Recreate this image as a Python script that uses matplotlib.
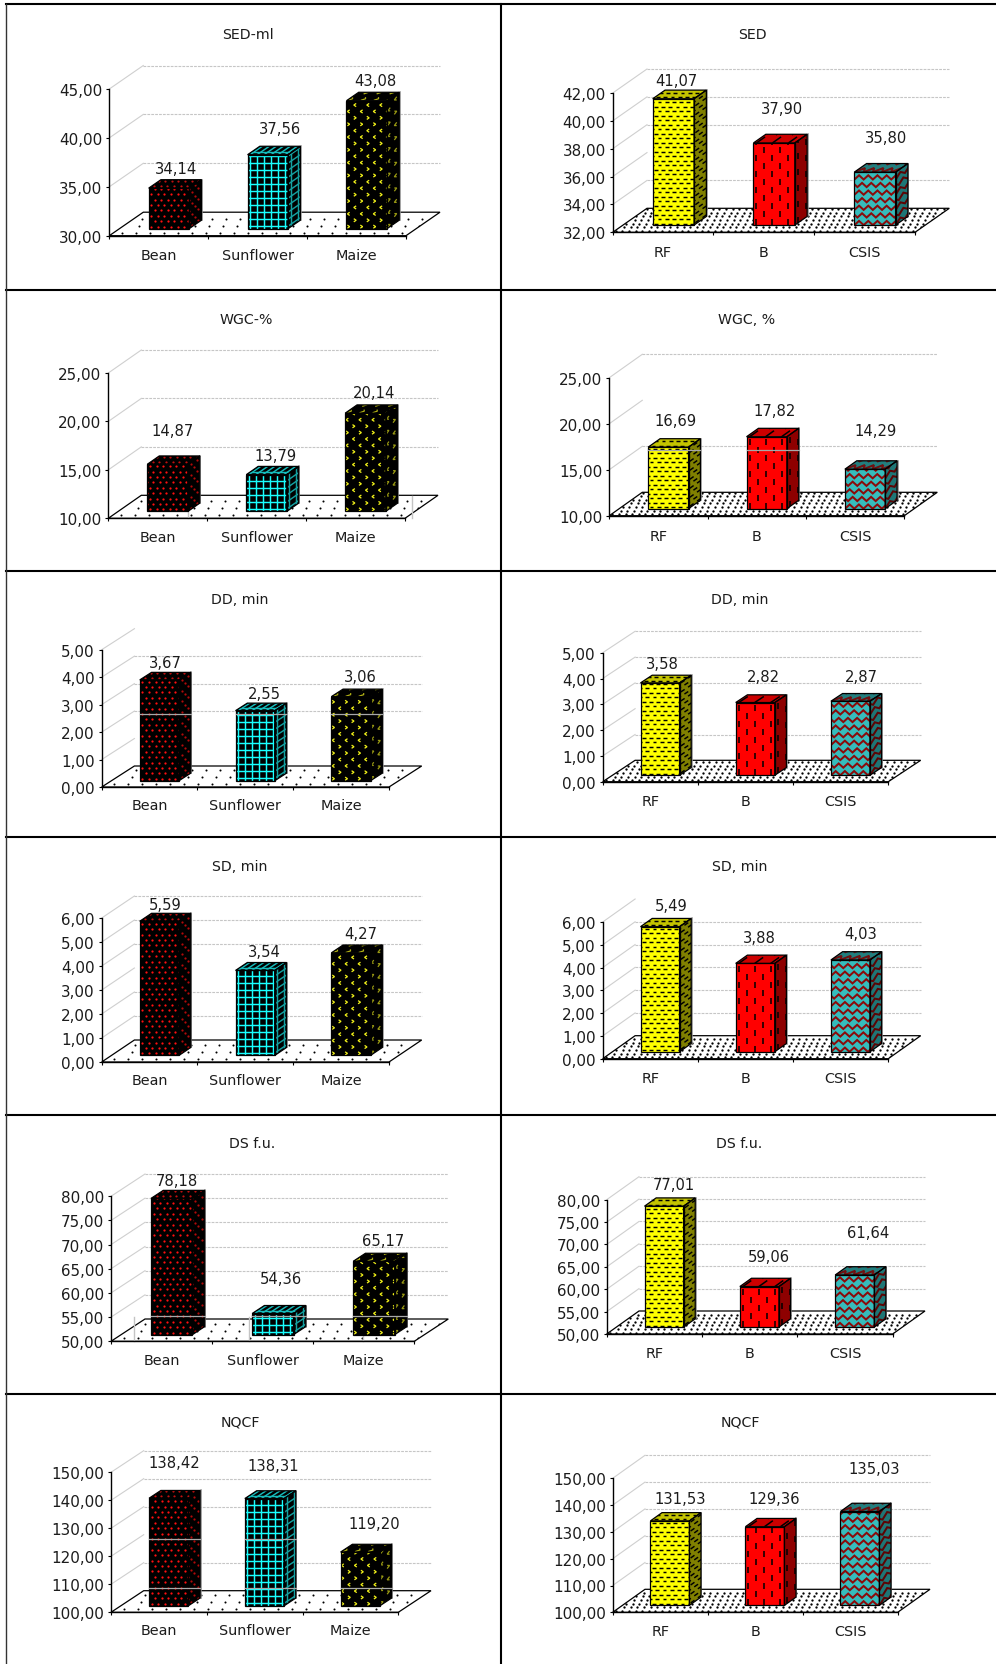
import numpy as np
import matplotlib
matplotlib.use('Agg')
import matplotlib.pyplot as plt
from matplotlib.collections import LineCollection
from matplotlib.lines import Line2D
from matplotlib.patches import Polygon

# ---------- data ----------
CROPS = ['Bean', 'Sunflower', 'Maize']
GROUPS = ['RF', 'B', 'CSIS']

SED_ML = [34.14, 37.56, 43.08]
SED = [41.07, 37.90, 35.80]
WGC_PCT = [14.87, 13.79, 20.14]
WGC = [16.69, 17.82, 14.29]
DD_CROP = [3.67, 2.55, 3.06]
DD_GROUP = [3.58, 2.82, 2.87]
SD_CROP = [5.59, 3.54, 4.27]
SD_GROUP = [5.49, 3.88, 4.03]
DS_CROP = [78.18, 54.36, 65.17]
DS_GROUP = [77.01, 59.06, 61.64]
NQCF_CROP = [138.42, 138.31, 119.20]
NQCF_GROUP = [131.53, 129.36, 135.03]

TITLES = ['SED-ml', 'SED', 'WGC-%', 'WGC, %', 'DD, min', 'DD, min',
          'SD, min', 'SD, min', 'DS f.u.', 'DS f.u.', 'NQCF', 'NQCF']
SERIES = [SED_ML, SED, WGC_PCT, WGC, DD_CROP, DD_GROUP,
          SD_CROP, SD_GROUP, DS_CROP, DS_GROUP, NQCF_CROP, NQCF_GROUP]
# value axes: min, max, step
AXES_RANGE = [(30, 45, 5), (32, 42, 2), (10, 25, 5), (10, 25, 5), (0, 5, 1), (0, 5, 1),
              (0, 6, 1), (0, 6, 1), (50, 80, 5), (50, 80, 5), (100, 150, 10), (100, 150, 10)]
HIDDEN_GRID = [[], [36], [], [20], [1, 5], [2], [3], [6], [], [], [120], []]

# ---------- layout (pixels in the 996x1665 picture) ----------
PW, PH = 996, 1665
# x0, x1, y of min, y of max, depth dx, depth dy, title x, title y, category label y
GEOM = [
    (109.3, 406.0, 236.7, 90.0, 34.0, 23.5, 247.7, 35.0, 255.7),
    (612.7, 915.0, 233.3, 94.0, 34.3, 24.0, 752.0, 35.0, 253.0),
    (108.3, 405.0, 519.3, 374.0, 33.0, 23.0, 246.7, 320.0, 537.7),
    (609.3, 904.3, 516.7, 378.7, 33.0, 23.4, 747.0, 320.3, 536.7),
    (101.7, 389.0, 788.0, 650.7, 32.7, 21.0, 240.0, 600.0, 806.0),
    (602.7, 888.3, 782.7, 653.7, 32.4, 21.4, 740.0, 600.0, 802.0),
    (101.7, 389.0, 1063.0, 919.0, 32.7, 22.0, 240.0, 867.0, 1081.3),
    (602.7, 888.3, 1059.7, 923.0, 32.4, 23.0, 739.3, 867.0, 1078.7),
    (111.0, 414.3, 1342.3, 1197.3, 34.0, 22.3, 252.3, 1144.3, 1360.7),
    (606.7, 892.7, 1335.0, 1200.7, 32.3, 23.0, 739.3, 1144.3, 1354.3),
    (111.0, 398.3, 1613.3, 1473.3, 32.7, 21.6, 240.0, 1422.3, 1631.3),
    (612.7, 897.7, 1613.3, 1479.3, 32.3, 23.0, 740.0, 1422.7, 1632.0),
]
VALUE_LABEL_XY = [
    [(175.7, 169.3), (280.0, 129.3), (375.7, 81.0)],
    [(676.0, 81.7), (782.0, 110.0), (885.7, 139.0)],
    [(172.7, 431.3), (275.7, 456.7), (374.3, 393.3)],
    [(675.0, 421.7), (775.0, 411.7), (875.7, 431.7)],
    [(165.0, 663.7), (264.3, 694.3), (360.3, 678.0)],
    [(662.7, 664.7), (763.3, 677.0), (861.3, 677.0)],
    [(165.0, 905.3), (264.3, 953.0), (360.3, 934.7)],
    [(670.7, 907.0), (759.3, 938.7), (861.0, 934.7)],
    [(177.3, 1181.0), (281.0, 1279.3), (383.3, 1241.7)],
    [(674.0, 1185.7), (769.0, 1257.7), (868.0, 1233.0)],
    [(174.0, 1463.3), (273.3, 1466.7), (374.0, 1524.3)],
    [(680.0, 1500.0), (774.0, 1499.3), (874.0, 1469.3)],
]
# stray light lines of the scanned picture
BAR_STREAK_Y = [[], [], [], [451], [715], [], [], [], [1317], [], [1540, 1589], []]
V_STREAKS = [(187.7, 457, 519), (411.6, 497, 519), (134, 1318, 1342), (249, 1318, 1342), (363, 1318, 1342)]

BAR_WIDTH = 0.41
BAR_FRONT = 0.30
BAR_DEPTH = 0.36

# colours: (background, pattern) for the front, side and top faces
STYLE = {
    'Bean':      [('#000000', '#ff1010'), ('#000000', '#b00a0a'), ('#000000', '#c01010')],
    'Sunflower': [('#000000', '#19ffff'), ('#000000', '#14a0a0'), ('#000000', '#16bcbc')],
    'Maize':     [('#000000', '#f2f21a'), ('#000000', '#9a9a14'), ('#000000', '#b0b016')],
    'RF':        [('#ffff00', '#000000'), ('#808000', '#000000'), ('#c4c400', '#000000')],
    'B':         [('#ff0000', '#000000'), ('#8e0000', '#000000'), ('#cc0000', '#000000')],
    'CSIS':      [('#36bcbc', '#8b0a0a'), ('#1e7676', '#5c0505'), ('#227e7e', '#701010')],
}
TXT = '#1c1c1c'

plt.rcParams['font.family'] = 'DejaVu Sans'
fig = plt.figure(figsize=(PW / 100, PH / 100), dpi=100, facecolor='white')


def elements(kind, La, Lb):
    """Pattern marks in face pixel coordinates: dots and polylines."""
    dots, lines = [], []
    if kind == 'Bean':
        for r, b in enumerate(np.arange(2, Lb + 6, 5.4)):
            for a in np.arange(-4 + (r % 2) * 3.3, La + 6, 6.6):
                dots.append((a, b))
    elif kind == 'Sunflower':
        for a in np.arange(2.5, La + 7, 7.0):
            lines.append([(a, -1), (a, Lb + 1)])
        for b in np.arange(2.5, Lb + 7, 7.0):
            lines.append([(-1, b), (La + 1, b)])
    elif kind == 'Maize':
        for r, b in enumerate(np.arange(2, Lb + 7, 6.4)):
            for a in np.arange(2 + (r % 2) * 6.5, La + 7, 13):
                s = 1 if r % 4 < 2 else -1
                lines.append([(a - s * 1.2, b + 1.6), (a + s * 1.2, b), (a - s * 1.2, b - 1.6)])
    elif kind == 'RF':
        for r, b in enumerate(np.arange(1.5, Lb + 5, 4.5)):
            for a in np.arange(-4 + (r % 2) * 3.6, La + 5, 7.2):
                lines.append([(a - 1.9, b), (a + 1.9, b)])
    elif kind == 'B':
        for c, a in enumerate(np.arange(3, La + 8, 8.0)):
            for b in np.arange(3 + (c % 2) * 8, Lb + 9, 16):
                lines.append([(a, b - 3), (a, b + 3)])
    elif kind == 'CSIS':
        for r, b in enumerate(np.arange(0, Lb + 8, 7.6)):
            pts = []
            for k, a in enumerate(np.arange(-9 + (r % 2) * 3, La + 9, 4.6)):
                pts.append((a, b + (4.2 if k % 2 else 0.0)))
            lines.append(pts)
    return dots, lines


def to_data(O, A, B, La, Lb, pts):
    pts = np.asarray(pts, float)
    ox, oy = O
    return np.column_stack([
        ox + pts[:, 0] / La * A[0] + pts[:, 1] / Lb * B[0],
        oy + pts[:, 0] / La * A[1] + pts[:, 1] / Lb * B[1],
    ])


def clip(artist, patch):
    artist.set_clip_box(None)
    artist.set_clip_path(patch)


def face(ax, O, A, B, La, Lb, kind, shade, z):
    bg, fg = STYLE[kind][shade]
    corners = [O, (O[0] + A[0], O[1] + A[1]),
               (O[0] + A[0] + B[0], O[1] + A[1] + B[1]), (O[0] + B[0], O[1] + B[1])]
    poly = Polygon(corners, closed=True, facecolor=bg, edgecolor='none', zorder=z, clip_on=False)
    ax.add_patch(poly)
    dots, lines = elements(kind, La, Lb)
    lw = {'Sunflower': 1.05, 'Maize': 0.9, 'RF': 1.05, 'B': 1.1, 'CSIS': 1.45}.get(kind, 1)
    if dots:
        d = to_data(O, A, B, La, Lb, dots)
        sc = ax.scatter(d[:, 0], d[:, 1], s=2.6, c=fg, linewidths=0, zorder=z + 0.1)
        clip(sc, poly)
    if lines:
        segs = [to_data(O, A, B, La, Lb, l) for l in lines]
        lc = LineCollection(segs, colors=fg, linewidths=lw, zorder=z + 0.1, joinstyle='miter')
        ax.add_collection(lc, autolim=False)
        clip(lc, poly)
    return corners


def draw_panel(idx):
    x0, x1, yb, yt, ddx, ddy, tx, ty, caty = GEOM[idx]
    vmin, vmax, step = AXES_RANGE[idx]
    values = SERIES[idx]
    cats = CROPS if idx % 2 == 0 else GROUPS
    ax = fig.add_axes([x0 / PW, 1 - yb / PH, (x1 - x0) / PW, (yb - yt) / PH])
    ax.set_xlim(0, 3)
    ax.set_ylim(vmin, vmax)
    ax.patch.set_alpha(0)
    sx = 3 / (x1 - x0)
    sy = (vmax - vmin) / (yb - yt)
    Dx, Dy = ddx * sx, ddy * sy
    X = lambda px: (px - x0) * sx
    Y = lambda py: vmin + (yb - py) * sy

    ticks = np.arange(vmin, vmax + step / 2, step)
    ax.set_yticks(ticks)
    ax.set_yticklabels([f'{t:.2f}'.replace('.', ',') for t in ticks], fontsize=10.9, color=TXT)
    ax.set_xticks([0, 1, 2, 3])
    ax.set_xticklabels([])
    ax.tick_params(axis='both', length=2.4, width=0.8, color='black', pad=2.5)
    for s in ('top', 'right'):
        ax.spines[s].set_visible(False)
    for s in ('left', 'bottom'):
        ax.spines[s].set_linewidth(1.0)
        ax.spines[s].set_zorder(30)

    # side wall and back wall lines
    for t in ticks[1:]:
        ax.plot([0, Dx], [t, t + Dy], color='#cfcfcf', lw=0.8, clip_on=False, zorder=1)
        if t not in HIDDEN_GRID[idx]:
            ax.plot([Dx, 3 + Dx], [t + Dy, t + Dy], color='#c6c6c6', lw=0.8,
                    ls=(0, (2.5, 1)), clip_on=False, zorder=1)

    # floor
    floor = Polygon([(0, vmin), (3, vmin), (3 + Dx, vmin + Dy), (Dx, vmin + Dy)], closed=True,
                    facecolor='white', edgecolor='black', lw=0.9, zorder=2, clip_on=False)
    ax.add_patch(floor)
    La, Lb = x1 - x0, ddy
    if idx % 2 == 0:
        fdots = [(a, b) for r, b in enumerate(np.arange(3, Lb, 7.0))
                 for a in np.arange(8 + (r % 2) * 7, La + ddx, 14)]
        size = 2.2
    else:
        fdots = [(a, b) for r, b in enumerate(np.arange(1.5, Lb, 3.6))
                 for a in np.arange(1 + (r % 2) * 3.3, La + ddx, 6.6)]
        size = 2.8
    fd = np.asarray(fdots)
    fd = np.column_stack([fd[:, 0] * sx + fd[:, 1] / Lb * Dx, vmin + fd[:, 1] * sy])
    sc = ax.scatter(fd[:, 0], fd[:, 1], s=size, c='black', linewidths=0, zorder=2.5)
    clip(sc, floor)

    # bars
    tDx, tDy = BAR_DEPTH * Dx, BAR_DEPTH * Dy
    for i, (cat, v) in enumerate(zip(cats, values)):
        cx = i + 0.5 + BAR_FRONT * Dx
        base = vmin + BAR_FRONT * Dy
        top = v + BAR_FRONT * Dy
        xl, xr = cx - BAR_WIDTH / 2, cx + BAR_WIDTH / 2
        z = 5 + i * 2
        bg = STYLE[cat][0][0]
        ax.bar(cx, v - vmin, width=BAR_WIDTH, bottom=base, color=bg, edgecolor='none',
               zorder=z, clip_on=False)
        wpx = BAR_WIDTH / sx
        hpx = (v - vmin) / sy
        tpx = BAR_DEPTH * ddx
        # grey shadow strip to the right of the side face
        ax.plot([xr + tDx + 0.5 * sx] * 2, [base + tDy, top + tDy], color='#8a8a8a', lw=1.1,
                clip_on=False, zorder=z)
        face(ax, (xl, base), (BAR_WIDTH, 0), (0, v - vmin), wpx, hpx, cat, 0, z + 0.1)
        side = face(ax, (xr, base), (tDx, tDy), (0, v - vmin), tpx, hpx, cat, 1, z + 0.1)
        topf = face(ax, (xl, top), (BAR_WIDTH, 0), (tDx, tDy), wpx, BAR_DEPTH * ddy, cat, 2, z + 0.1)
        # outlines
        for corners in (side, topf):
            ax.add_patch(Polygon(corners, closed=True, fill=False, edgecolor='black', lw=0.9,
                                 zorder=z + 0.5, clip_on=False))
        ax.add_patch(Polygon([(xl, base), (xr, base), (xr, top), (xl, top)], closed=True, fill=False,
                             edgecolor='black', lw=0.9, zorder=z + 0.5, clip_on=False))
        for py in BAR_STREAK_Y[idx]:
            yy = Y(py)
            if base < yy < top:
                ax.plot([xl, xr + tDx], [yy, yy], color='#a8a8a8', lw=0.9, clip_on=False, zorder=z + 0.6)
        lx, ly = VALUE_LABEL_XY[idx][i]
        ax.text(X(lx), Y(ly), f'{v:.2f}'.replace('.', ','), ha='center', va='center',
                fontsize=10.6, color=TXT, zorder=40, clip_on=False)
        ax.text(i + 0.5, Y(caty), cat, ha='center', va='center', fontsize=10.4, color=TXT,
                zorder=40, clip_on=False)

    ax.text(X(tx), Y(ty), TITLES[idx], ha='center', va='center', fontsize=10.2, color=TXT, clip_on=False)

    for vx, v_a, v_b in V_STREAKS:
        if x0 < vx < x1 + ddx and yt < v_b <= yb + 1 and v_a > yt - 30:
            ax.plot([X(vx), X(vx)], [Y(v_a), Y(v_b)], color='#c4c4c4', lw=1.0, clip_on=False, zorder=3)


for k in range(12):
    draw_panel(k)

# table frame
FRAME_Y = [5, 290.5, 572, 838, 1115.5, 1394.5]
for fy in FRAME_Y:
    fig.add_artist(Line2D([5.7 / PW, 1], [1 - fy / PH] * 2, color='black', lw=1.5))
fig.add_artist(Line2D([501 / PW] * 2, [1 - 5 / PH, 0], color='black', lw=1.5))
fig.add_artist(Line2D([5.7 / PW] * 2, [1 - 5 / PH, 0], color='#333333', lw=1.0))

fig.savefig('out.png', dpi=100, facecolor='white')
